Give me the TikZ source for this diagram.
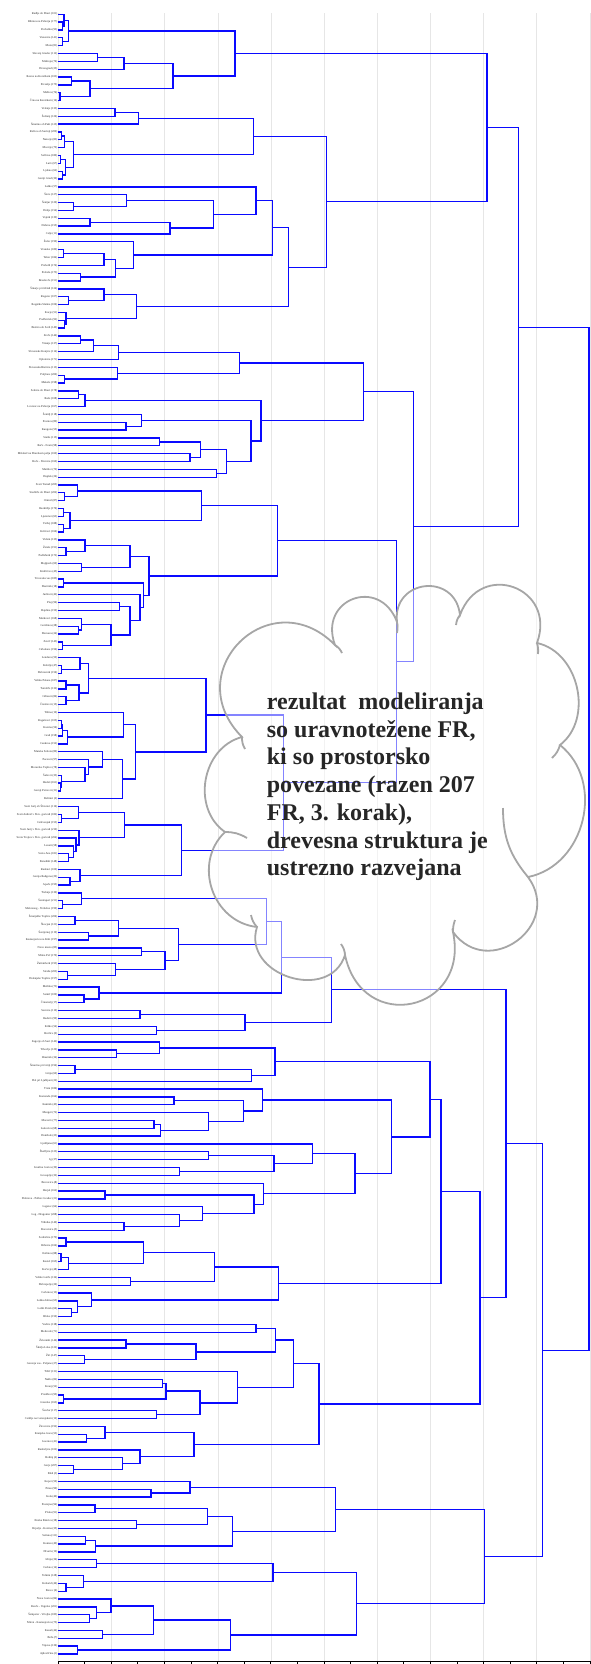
\documentclass[tikz,border=0pt]{standalone}
\usepackage{fontspec}
\setmainfont{Liberation Serif}
\usetikzlibrary{calc}

\definecolor{dendblue}{RGB}{10,10,255}
\definecolor{gridgray}{RGB}{230,230,230}
\definecolor{cloudgray}{RGB}{166,166,166}
\definecolor{txtdark}{RGB}{38,38,38}

% #1 novo vozlisce, #2 #3 otroka, #4 visina zdruzitve
\newcommand{\mrg}[4]{%
  \draw[dend] let \p1=(#2), \p2=(#3) in (\p1) -- (#4pt,\y1) -- (#4pt,\y2) -- (\p2);
  \path let \p1=(#2), \p2=(#3) in coordinate (#1) at (#4pt,{0.5*(\y1+\y2)});
}

\begin{document}
\begin{tikzpicture}[x=1pt, y=1pt,
  dend/.style={draw=dendblue, line width=1.3pt},
  leaf/.style={font=\fontsize{2.9}{3}\selectfont, text=txtdark, inner sep=0.4pt},
  gridline/.style={draw=gridgray, line width=0.8pt},
  cloudline/.style={draw=cloudgray, line width=1.8pt, fill=white, fill opacity=0.5},
  cloudtail/.style={draw=cloudgray, line width=1.8pt},
  cloudtext/.style={font=\fontsize{24}{27.7}\selectfont\bfseries, text=txtdark,
    align=left, inner sep=0pt}]

\useasboundingbox (0,0) rectangle (590,-1664);

%=== mreza in os ===
\foreach \k in {0,...,10}
  \draw[gridline] ({58.5+53.15*\k},-13) -- ({58.5+53.15*\k},-1661);
\draw[black, line width=0.9pt] (58,-1661) -- (590,-1661);
\foreach \k in {0,...,20}
  \draw[black, line width=0.7pt] ({58+26.6*\k},-1661) -- ++(0,-3);

%=== listi (FR) ===
\foreach \lab [count=\i] in {Radlje ob Dravi (101), Ribnica na Pohorju (177),
  Podvelka (93), Vuzenica (141), Muta (81), Slovenj Gradec (112), Mislinja (76),
  Dravograd (25), Ravne na Koroškem (103), Prevalje (175), Mežica (74),
  Črna na Koroškem (16), Velenje (133), Šoštanj (126), Šmartno ob Paki (125),
  Rečica ob Savinji (209), Nazarje (83), Mozirje (79), Solčava (180), Luče (67),
  Ljubno (62), Gornji Grad (30), Laško (57), Štore (127), Šentjur (120),
  Dobje (154), Vojnik (139), Dobrna (155), Celje (11), Žalec (190),
  Vransko (189), Tabor (184), Prebold (174), Polzela (173), Braslovče (151),
  Šmarje pri Jelšah (124), Rogatec (107), Rogaška Slatina (106), Kozje (51),
  Podčetrtek (92), Bistrica ob Sotli (149), Zreče (144), Vitanje (137),
  Slovenske Konjice (114), Oplotnica (171), Slovenska Bistrica (113),
  Poljčane (200), Makole (198), Selnica ob Dravi (178), Ruše (108),
  Lovrenc na Pohorju (167), Šentilj (118), Pesnica (89), Kungota (55),
  Starše (115), Rače - Fram (98), Miklavž na Dravskem polju (169),
  Hoče - Slivnica (160), Maribor (70), Duplek (26), Sveti Tomaž (205),
  Središče ob Dravi (202), Ormož (87), Razkrižje (176), Ljutomer (63),
  Veržej (188), Križevci (166), Videm (135), Žetale (191), Podlehnik (172),
  Majšperk (69), Kidričevo (45), Trnovska vas (185), Destrnik (18),
  Juršinci (42), Ptuj (96), Hajdina (159), Markovci (168), Gorišnica (28),
  Dornava (24), Zavrč (143), Cirkulane (196), Lendava (59), Kobilje (47),
  Dobrovnik (156), Velika Polana (187), Turnišče (132), Odranci (86),
  Črenšovci (15), Tišina (10), Rogašovci (105), Kuzma (56), Grad (158),
  Cankova (152), Murska Sobota (80), Puconci (97), Moravske Toplice (78),
  Šalovci (33), Hodoš (161), Gornji Petrovci (31), Beltinci (2),
  Sveti Jurij ob Ščavnici (116), Sveti Andraž v Slov. goricah (182),
  Cerkvenjak (153), Sveti Jurij v Slov. goricah (210),
  Sveta Trojica v Slov. goricah (204), Lenart (58), Sveta Ana (181),
  Benedikt (148), Radenci (100), Gornja Radgona (29), Apače (195),
  Trebnje (130), Šentrupert (211), Mokronog - Trebelno (199),
  Šmarješke Toplice (206), Škocjan (121), Šentjernej (119),
  Kostanjevica na Krki (197), Novo mesto (85), Mirna Peč (170),
  Žužemberk (193), Straža (203), Dolenjske Toplice (157), Metlika (73),
  Semič (109), Črnomelj (17), Sevnica (110), Radeče (99), Krško (54),
  Brežice (9), Zagorje ob Savi (142), Trbovlje (129), Hrastnik (34),
  Šmartno pri Litiji (194), Litija (60), Dol pri Ljubljani (22), Trzin (186),
  Komenda (164), Kamnik (43), Mengeš (72), Moravče (77), Lukovica (68),
  Domžale (23), Ljubljana (61), Škofljica (123), Ig (37), Ivančna Gorica (39),
  Grosuplje (32), Brezovica (8), Horjul (162), Dobrova - Polhov Gradec (21),
  Logatec (64), Log - Dragomer (208), Vrhnika (140), Borovnica (5),
  Sodražica (179), Ribnica (104), Osilnica (88), Kostel (165), Kočevje (48),
  Velike Lašče (134), Dobrepolje (20), Cerknica (13), Loška dolina (65),
  Loški Potok (66), Bloke (150), Vodice (138), Medvode (71), Železniki (146),
  Škofja Loka (122), Žiri (147), Gorenja vas - Poljane (27), Tržič (131),
  Naklo (82), Kranj (52), Preddvor (95), Jezersko (163), Šenčur (117),
  Cerklje na Gorenjskem (12), Žirovnica (192), Kranjska Gora (53),
  Jesenice (41), Radovljica (102), Bohinj (4), Gorje (207), Bled (3),
  Koper (50), Piran (90), Izola (40), Postojna (94), Pivka (91),
  Ilirska Bistrica (38), Hrpelje - Kozina (35), Sežana (111), Komen (49),
  Divača (19), Idrija (36), Cerkno (14), Tolmin (128), Kobarid (46),
  Bovec (6), Nova Gorica (84), Renče - Vogrsko (201), Šempeter - Vrtojba (183),
  Miren - Kostanjevica (75), Kanal (44), Brda (7), Vipava (136),
  Ajdovščina (1)}{
  \pgfmathsetmacro{\ly}{-(14.3+7.845*(\i-1))}
  \coordinate[label={[leaf]left:\lab}] (l\i) at (58,\ly);
}

%=== Koroska, Saleska, Savinjska ===
\mrg{m1}{l2}{l3}{62.7}   \mrg{m2}{l1}{m1}{64}     \mrg{m3}{l4}{l5}{62.7}
\mrg{m4}{m2}{m3}{68.3}   \mrg{m5}{l6}{l7}{97.3}   \mrg{m6}{m5}{l8}{124}
\mrg{m7}{l9}{l10}{71.7}  \mrg{m8}{l11}{l12}{60}   \mrg{m9}{m7}{m8}{90}
\mrg{m10}{m6}{m9}{173}   \mrg{m11}{m4}{m10}{235}
\mrg{m12}{l13}{l14}{115} \mrg{m13}{m12}{l15}{138.3}
\mrg{m14}{l16}{l17}{61.7} \mrg{m15}{m14}{l18}{64.3}
\mrg{m16}{l19}{l20}{60.7} \mrg{m17}{l21}{l22}{62.7}
\mrg{m18}{m16}{m17}{65.7} \mrg{m19}{m15}{m18}{73.3}
\mrg{m20}{m13}{m19}{253.3}
\mrg{m21}{l25}{l26}{73.3} \mrg{m22}{l24}{m21}{126.7}
\mrg{m23}{l27}{l28}{90}   \mrg{m24}{m23}{l29}{170}
\mrg{m25}{m22}{m24}{213.3} \mrg{m26}{l23}{m25}{256}
\mrg{m27}{l31}{l32}{63.3} \mrg{m28}{m27}{l33}{104}
\mrg{m29}{l34}{l35}{80.7} \mrg{m30}{m28}{m29}{115.7}
\mrg{m31}{l30}{m30}{133.3} \mrg{m32}{m26}{m31}{272.7}
\mrg{m33}{l37}{l38}{68.3} \mrg{m34}{l36}{m33}{104}
\mrg{m35}{l40}{l41}{64.3} \mrg{m36}{l39}{m35}{66}
\mrg{m37}{m34}{m36}{136.7} \mrg{m38}{m32}{m37}{288.3}
\mrg{m39}{m20}{m38}{326.7} \mrg{m40}{m11}{m39}{487}

%=== Podravje, Pomurje ===
\mrg{m41}{l42}{l43}{80.7} \mrg{m42}{m41}{l44}{93.3}
\mrg{m43}{m42}{l45}{118.3} \mrg{m44}{l47}{l48}{64.3}
\mrg{m45}{l46}{m44}{117.3} \mrg{m46}{m43}{m45}{239.3}
\mrg{m47}{l49}{l50}{78.3} \mrg{m48}{m47}{l51}{85}
\mrg{m49}{l53}{l54}{126}  \mrg{m50}{l52}{m49}{141.7}
\mrg{m51}{l55}{l56}{159.3} \mrg{m52}{l57}{l58}{190}
\mrg{m53}{m51}{m52}{200.7} \mrg{m54}{l59}{l60}{216.7}
\mrg{m55}{m53}{m54}{226.7} \mrg{m56}{m50}{m55}{251}
\mrg{m57}{m48}{m56}{261}  \mrg{m58}{m46}{m57}{363.3}
\mrg{m59}{l62}{l63}{64.3} \mrg{m60}{l61}{m59}{77.7}
\mrg{m61}{l64}{l65}{63.3} \mrg{m62}{l66}{l67}{63.3}
\mrg{m63}{m61}{m62}{70}   \mrg{m64}{m60}{m63}{201.7}
\mrg{m65}{l69}{l70}{66}   \mrg{m66}{l68}{m65}{85}
\mrg{m67}{l71}{l72}{81.7} \mrg{m68}{m66}{m67}{130}
\mrg{m69}{l73}{l74}{63.3} \mrg{m70}{l76}{l77}{119.3}
\mrg{m71}{l79}{l80}{78.3} \mrg{m72}{l78}{m71}{81.7}
\mrg{m73}{l81}{l82}{62.7} \mrg{m74}{m72}{m73}{111}
\mrg{m75}{m70}{m74}{130}  \mrg{m76}{l75}{m75}{140}
\mrg{m77}{m69}{m76}{143.3} \mrg{m78}{m68}{m77}{149}
\mrg{m79}{m64}{m78}{277.7}
\mrg{m80}{l84}{l85}{61.7} \mrg{m81}{l83}{m80}{80}
\mrg{m82}{l86}{l87}{66}   \mrg{m83}{l88}{l89}{66}
\mrg{m84}{m82}{m83}{79}   \mrg{m85}{m81}{m84}{88.3}
\mrg{m86}{l91}{l92}{61.7} \mrg{m87}{m86}{l93}{62.7}
\mrg{m88}{m87}{l94}{67.7} \mrg{m89}{l90}{m88}{123.3}
\mrg{m90}{l99}{l100}{60.7} \mrg{m91}{l98}{m90}{61.7}
\mrg{m92}{l97}{m91}{85}   \mrg{m93}{l96}{m92}{88.3}
\mrg{m94}{l95}{m93}{102.7} \mrg{m95}{m94}{l101}{122.3}
\mrg{m96}{m89}{m95}{135.7} \mrg{m97}{m85}{m96}{206}
\mrg{m98}{l103}{l104}{61.7} \mrg{m99}{l102}{m98}{78.3}
\mrg{m100}{l108}{l109}{68.3} \mrg{m101}{l107}{m100}{73.3}
\mrg{m102}{l106}{m101}{76} \mrg{m103}{l105}{m102}{79}
\mrg{m104}{m99}{m103}{124.3} \mrg{m105}{l111}{l112}{70}
\mrg{m106}{l110}{m105}{80} \mrg{m107}{m104}{m106}{181.7}
\mrg{m108}{m97}{m107}{283.3} \mrg{m109}{m79}{m108}{396.7}
\mrg{m110}{m58}{m109}{413.3} \mrg{m111}{m40}{m110}{518.3}

%=== Dolenjska, Posavje, osrednja Slovenija ===
\mrg{m112}{l114}{l115}{62.7} \mrg{m113}{l113}{m112}{81.7}
\mrg{m114}{l116}{l117}{75} \mrg{m115}{l118}{l119}{88.3}
\mrg{m116}{m114}{m115}{118.3} \mrg{m117}{l120}{l121}{141.7}
\mrg{m118}{l123}{l124}{67.7} \mrg{m119}{l122}{m118}{115.7}
\mrg{m120}{m117}{m119}{165} \mrg{m121}{m116}{m120}{178.3}
\mrg{m122}{m113}{m121}{266.7} \mrg{m123}{l126}{l127}{84}
\mrg{m124}{l125}{m123}{99} \mrg{m125}{m122}{m124}{281.7}
\mrg{m126}{l128}{l129}{140} \mrg{m127}{l130}{l131}{156.7}
\mrg{m128}{m126}{m127}{245} \mrg{m129}{m125}{m128}{331.7}
\mrg{m130}{l133}{l134}{116.7} \mrg{m131}{l132}{m130}{159.3}
\mrg{m132}{l135}{l136}{75} \mrg{m133}{m132}{l137}{251.7}
\mrg{m134}{m131}{m133}{275}
\mrg{m135}{l139}{l140}{174} \mrg{m136}{l142}{l143}{154}
\mrg{m137}{m136}{l144}{160.7} \mrg{m138}{l141}{m137}{208.3}
\mrg{m139}{m135}{m138}{243.3} \mrg{m140}{l138}{m139}{262.7}
\mrg{m141}{l146}{l147}{208.3} \mrg{m142}{l148}{l149}{179.3}
\mrg{m143}{m141}{m142}{274} \mrg{m144}{l145}{m143}{312.3}
\mrg{m145}{l151}{l152}{105} \mrg{m146}{l155}{l156}{124}
\mrg{m147}{l154}{m146}{179.3} \mrg{m148}{l153}{m147}{202.7}
\mrg{m149}{m145}{m148}{254} \mrg{m150}{l150}{m149}{263.3}
\mrg{m151}{m144}{m150}{355} \mrg{m152}{m140}{m151}{391.7}
\mrg{m153}{m134}{m152}{430}
\mrg{m154}{l157}{l158}{66} \mrg{m155}{l159}{l160}{61}
\mrg{m156}{m155}{l161}{68.3} \mrg{m157}{m154}{m156}{143.3}
\mrg{m158}{l162}{l163}{130.7} \mrg{m159}{m157}{m158}{214.3}
\mrg{m160}{l166}{l167}{71.7} \mrg{m161}{l165}{m160}{77.3}
\mrg{m162}{l164}{m161}{91.7} \mrg{m163}{m159}{m162}{278.3}
\mrg{m164}{m153}{m163}{441}

%=== Gorenjska ===
\mrg{m165}{l168}{l169}{256} \mrg{m166}{l170}{l171}{126}
\mrg{m167}{l172}{l173}{84.3} \mrg{m168}{m166}{m167}{196}
\mrg{m169}{m165}{m168}{275.3} \mrg{m170}{l175}{l176}{162.3}
\mrg{m171}{l177}{l178}{63.3} \mrg{m172}{m170}{m171}{166}
\mrg{m173}{l179}{l180}{156.7} \mrg{m174}{m172}{m173}{200}
\mrg{m175}{l174}{m174}{237.3} \mrg{m176}{m169}{m175}{293.3}
\mrg{m177}{l182}{l183}{86.7} \mrg{m178}{l181}{m177}{105}
\mrg{m179}{l186}{l187}{73.3} \mrg{m180}{l185}{m179}{122.3}
\mrg{m181}{l184}{m180}{140} \mrg{m182}{m178}{m181}{194}
\mrg{m183}{m176}{m182}{319} \mrg{m184}{m164}{m183}{480}
\mrg{m185}{m129}{m184}{506}

%=== Primorska, Notranjska ===
\mrg{m186}{l189}{l190}{151} \mrg{m187}{l188}{m186}{190}
\mrg{m188}{l191}{l192}{95} \mrg{m189}{l193}{l194}{136.7}
\mrg{m190}{m188}{m189}{207.3} \mrg{m191}{l195}{l196}{85.7}
\mrg{m192}{m191}{l197}{95.7} \mrg{m193}{m190}{m192}{232.3}
\mrg{m194}{m187}{m193}{335.7}
\mrg{m195}{l198}{l199}{96.7} \mrg{m196}{l201}{l202}{65.9}
\mrg{m197}{l200}{m196}{83.6} \mrg{m198}{m195}{m197}{272.9}
\mrg{m199}{l205}{l206}{89.2} \mrg{m200}{l204}{m199}{96.7}
\mrg{m201}{l203}{m200}{111} \mrg{m202}{l207}{l208}{102.4}
\mrg{m203}{m201}{m202}{153.6} \mrg{m204}{l209}{l210}{77.2}
\mrg{m205}{m203}{m204}{230.3} \mrg{m206}{m198}{m205}{356.8}
\mrg{m207}{m194}{m206}{484.3} \mrg{m208}{m185}{m207}{542.3}

% koren
\mrg{m209}{m111}{m208}{589}

%=== oblacek s komentarjem ===
\draw[cloudline] (242,-737)
  to[bend left=90, looseness=1.8] (335,-645)
  to[bend left=90, looseness=1.9] (397,-622)
  to[bend left=90, looseness=1.75] (460,-615)
  to[bend left=90, looseness=1.85] (537,-643)
  to[bend left=65, looseness=1.05] (560,-745)
  to[bend left=65, looseness=1.1] (528,-877)
  to[bend left=90, looseness=1.65] (453,-932)
  to[bend left=90, looseness=1.9] (345,-955)
  to[bend left=90, looseness=1.4] (257,-927)
  to[bend left=65, looseness=1.15] (225,-832)
  to[bend left=65, looseness=1.1] (242,-737) -- cycle;
% zavihki lokov v notranjosti
\draw[cloudtail] (242,-737) to[bend right=15] (245,-749);
\draw[cloudtail] (335,-645) to[bend left=15] (342,-653);
\draw[cloudtail] (397,-622) to[bend left=10] (397,-633);
\draw[cloudtail] (460,-615) to[bend right=15] (456,-625);
\draw[cloudtail] (537,-643) to[bend left=10] (538,-654);
\draw[cloudtail] (560,-745) to[bend left=15] (552,-758);
\draw[cloudtail] (528,-877) to[bend left=20] (503,-808);
\draw[cloudtail] (453,-932) to[bend left=10] (455,-920);
\draw[cloudtail] (345,-955) to[bend right=15] (341,-944);
\draw[cloudtail] (257,-927) to[bend left=15] (251,-915);
\draw[cloudtail] (225,-832) to[bend left=15] (247,-838);
\node[cloudtext, anchor=north west] (opis) at (266.7,-692.7)
  {rezultat\ \ modeliranja\\
   so uravnotežene FR,\\
   ki so prostorsko\\
   povezane (razen 207\\
   FR, 3. korak),\\
   drevesna struktura je\\
   ustrezno razvejana};

\end{tikzpicture}
\end{document}
